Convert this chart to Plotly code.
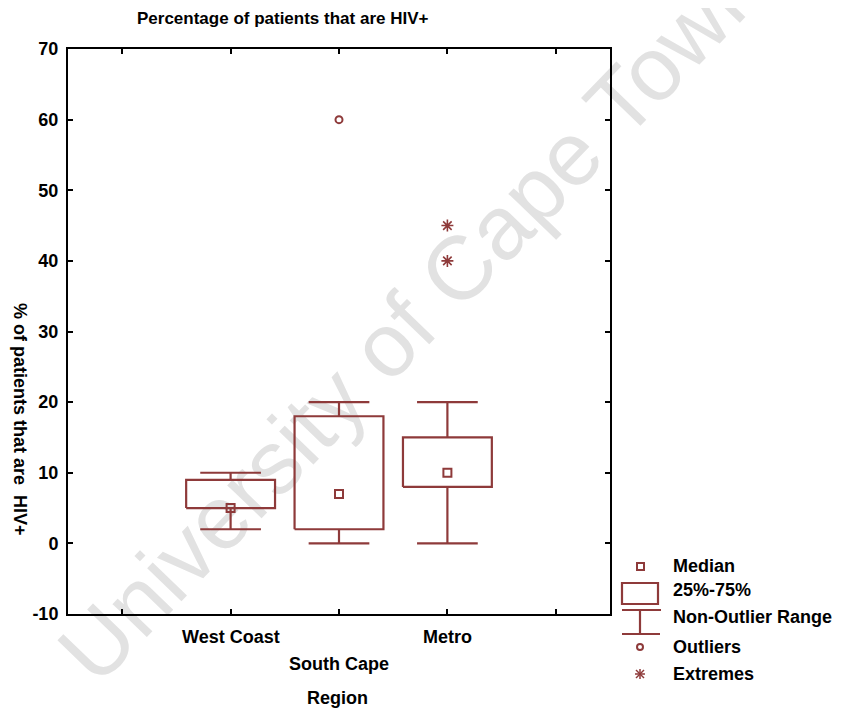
import plotly.graph_objects as go

# ---- data ----
categories = ["West Coast", "South Cape", "Metro"]
positions = [1, 2, 3]
q1 = [5, 2, 8]
median = [5, 7, 10]
q3 = [9, 18, 15]
whisker_low = [2, 0, 0]
whisker_high = [10, 20, 20]
outlier_cat = [2]
outlier_val = [60]
extreme_cat = [3, 3]
extreme_val = [45, 40]
y_ticks = [-10, 0, 10, 20, 30, 40, 50, 60, 70]

RED = "#8e3a3a"
FONT = "Liberation Sans, Arial, sans-serif"
BOX_HALF = 0.41
CAP_HALF = 0.28

# page geometry (the page body has an 8px margin)
OFF = 8
PAGE_W, PAGE_H = 846, 712
L, R, T, B = 68, 610, 49, 614   # plot area in page pixels


def px(x):
    return (x - L) / (R - L)


def py(y):
    return (B - y) / (B - T)


fig = go.Figure()

for i, c in enumerate(positions):
    xs = [c - BOX_HALF, c + BOX_HALF, c + BOX_HALF, c - BOX_HALF, c - BOX_HALF, None,
          c, c, None, c, c, None,
          c - CAP_HALF, c + CAP_HALF, None, c - CAP_HALF, c + CAP_HALF]
    ys = [q1[i], q1[i], q3[i], q3[i], q1[i], None,
          q3[i], whisker_high[i], None, q1[i], whisker_low[i], None,
          whisker_high[i], whisker_high[i], None, whisker_low[i], whisker_low[i]]
    fig.add_trace(go.Scatter(x=xs, y=ys, mode="lines",
                             line=dict(color=RED, width=2.2),
                             showlegend=False, hoverinfo="skip"))

fig.add_trace(go.Scatter(x=positions, y=median, mode="markers",
                         marker=dict(symbol="square-open", size=8, color=RED,
                                     line=dict(width=2, color=RED)),
                         showlegend=False))
fig.add_trace(go.Scatter(x=outlier_cat, y=outlier_val, mode="markers",
                         marker=dict(symbol="circle-open", size=7, color=RED,
                                     line=dict(width=2, color=RED)),
                         showlegend=False))
fig.add_trace(go.Scatter(x=extreme_cat, y=extreme_val, mode="markers",
                         marker=dict(symbol="asterisk-open", size=10, color=RED,
                                     line=dict(width=1.6, color=RED)),
                         showlegend=False))

shapes = []
# watermark (drawn below the data)
cx, cy = 405, 312
shapes.append(dict(type="rect", xref="paper", yref="paper",
                   x0=px(cx - 2), x1=px(cx + 2), y0=py(cy + 2), y1=py(cy - 2),
                   line=dict(width=0), fillcolor="rgba(0,0,0,0)", layer="below",
                   label=dict(text="University of Cape Town", textangle=-46,
                              textposition="middle center",
                              font=dict(family=FONT, size=90, color="#e2e2e2"))))


def line(x0, y0, x1, y1, w=2.2):
    shapes.append(dict(type="line", xref="paper", yref="paper",
                       x0=px(x0), y0=py(y0), x1=px(x1), y1=py(y1),
                       line=dict(color=RED, width=w)))


# legend icons
shapes.append(dict(type="rect", xref="paper", yref="paper",
                   x0=px(637), x1=px(644), y0=py(570), y1=py(563),
                   line=dict(color=RED, width=2)))
shapes.append(dict(type="rect", xref="paper", yref="paper",
                   x0=px(622), x1=px(658), y0=py(604), y1=py(583),
                   line=dict(color=RED, width=2.2)))
line(622, 610, 661, 610)
line(640, 610, 640, 634)
line(622, 634, 660, 634)
shapes.append(dict(type="circle", xref="paper", yref="paper",
                   x0=px(637), x1=px(643), y0=py(650), y1=py(644),
                   line=dict(color=RED, width=2)))
ax, ay = 640, 674
line(ax - 5, ay, ax + 5, ay, 1.5)
line(ax, ay - 5, ax, ay + 5, 1.5)
line(ax - 4, ay - 4, ax + 4, ay + 4, 1.5)
line(ax - 4, ay + 4, ax + 4, ay - 4, 1.5)

TXT = dict(family=FONT, size=18, color="black", weight="bold")
annotations = []
legend_items = [("Median", 566), ("25%-75%", 590), ("Non-Outlier Range", 617),
                ("Outliers", 647), ("Extremes", 674)]
for txt, yy in legend_items:
    annotations.append(dict(text=txt, xref="paper", yref="paper", x=px(671), y=py(yy),
                            xanchor="left", yanchor="middle", showarrow=False, font=TXT))

# category labels (staggered)
label_rows = [637, 664, 637]
for c, name, row in zip(positions, categories, label_rows):
    annotations.append(dict(text=name, xref="x", yref="paper", x=c, y=py(row),
                            xanchor="center", yanchor="middle", showarrow=False, font=TXT))

annotations.append(dict(text="Region", xref="paper", yref="paper", x=px(337), y=py(698),
                        xanchor="center", yanchor="middle", showarrow=False, font=TXT))
annotations.append(dict(text="Percentage of patients that are HIV+", xref="paper", yref="paper",
                        x=px(135), y=py(19), xanchor="left", yanchor="middle", showarrow=False,
                        font=dict(family=FONT, size=17, color="black", weight="bold")))
annotations.append(dict(text="% of patients that are  HIV+", xref="paper", yref="paper",
                        x=px(20), y=py(419), xanchor="center", yanchor="middle", showarrow=False,
                        textangle=90,
                        font=dict(family=FONT, size=18, color="black", weight="bold")))

fig.update_layout(
    width=PAGE_W - OFF, height=PAGE_H - OFF,
    margin=dict(l=L - OFF, r=PAGE_W - R, t=T - OFF, b=PAGE_H - B),
    paper_bgcolor="white", plot_bgcolor="rgba(0,0,0,0)",
    shapes=shapes, annotations=annotations, showlegend=False,
    xaxis=dict(range=[-0.5, 4.5], tickvals=[0, 1, 2, 3, 4], ticktext=[""] * 5,
               ticks="inside", ticklen=5, tickwidth=2, tickcolor="black",
               showline=True, linecolor="black", linewidth=2, mirror="ticks",
               showgrid=False, zeroline=False, fixedrange=True),
    yaxis=dict(range=[-10, 70], tickvals=y_ticks, ticktext=[str(v) for v in y_ticks],
               ticks="inside", ticklen=5, tickwidth=2, tickcolor="black",
               showline=True, linecolor="black", linewidth=2, mirror="ticks",
               showgrid=False, zeroline=False, ticklabelstandoff=4,
               tickfont=dict(family=FONT, size=18, color="black", weight="bold")),
)

fig.write_html("out.html")
